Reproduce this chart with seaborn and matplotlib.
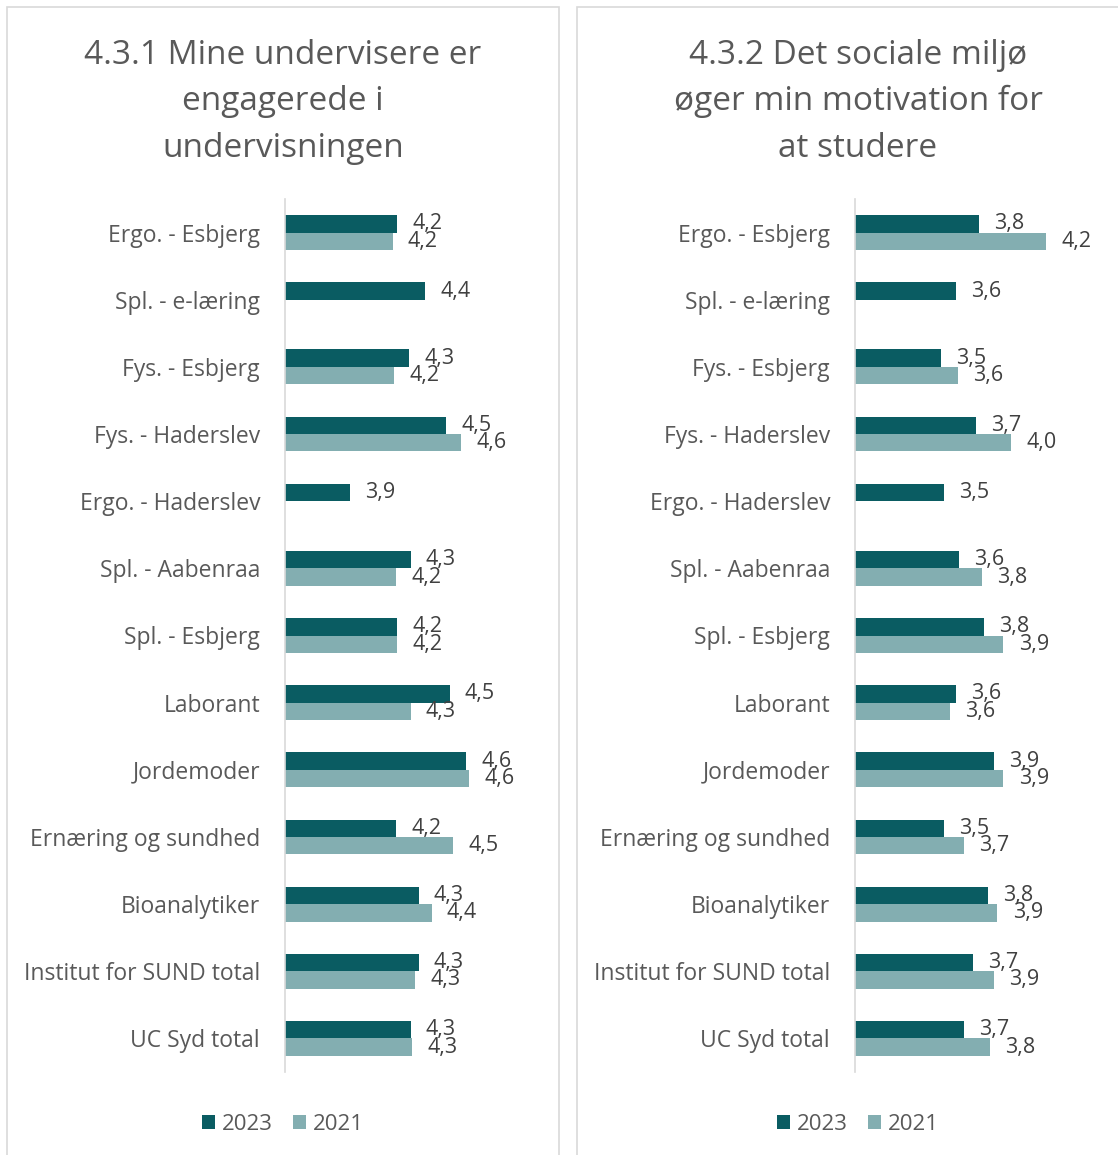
import numpy as np
import pandas as pd
import seaborn as sns
import matplotlib.pyplot as plt
from matplotlib.patches import Rectangle

# Data
categories = ['Ergo. - Esbjerg', 'Spl. - e-læring', 'Fys. - Esbjerg', 'Fys. - Haderslev',
              'Ergo. - Haderslev', 'Spl. - Aabenraa', 'Spl. - Esbjerg', 'Laborant',
              'Jordemoder', 'Ernæring og sundhed', 'Bioanalytiker',
              'Institut for SUND total', 'UC Syd total']
years = ['2023', '2021']

engaged_2023 = [4.19, 4.36, 4.26, 4.49, 3.90, 4.27, 4.19, 4.51, 4.61, 4.18, 4.32, 4.32, 4.27]
engaged_2021 = [4.16, np.nan, 4.17, 4.58, np.nan, 4.18, 4.19, 4.27, 4.63, 4.53, 4.40, 4.30, 4.28]

social_2023 = [3.76, 3.61, 3.51, 3.74, 3.53, 3.63, 3.79, 3.61, 3.86, 3.53, 3.82, 3.72, 3.66]
social_2021 = [4.20, np.nan, 3.62, 3.97, np.nan, 3.78, 3.92, 3.57, 3.92, 3.66, 3.88, 3.86, 3.83]

title_left = ['4.3.1 Mine undervisere er', 'engagerede i', 'undervisningen']
title_right = ['4.3.2 Det sociale miljø', 'øger min motivation for', 'at studere']

dark = '#0A5C62'
light = '#83AEB1'
grey_txt = '#595959'
val_txt = '#404040'
line_col = '#D9D9D9'


def long_df(v23, v21):
    df = pd.DataFrame({'Uddannelse': categories * 2,
                       'År': ['2023'] * len(categories) + ['2021'] * len(categories),
                       'Score': list(v23) + list(v21)})
    return df.dropna()


sns.set_style('white')
plt.rcParams['font.family'] = ['Open Sans', 'DejaVu Sans']

W, H = 1118, 1155
fig = plt.figure(figsize=(W / 100, H / 100), dpi=100)

# panel frames
for x0, x1 in [(7, 559), (577, 1140)]:
    fig.patches.append(Rectangle((x0 / W, -0.02), (x1 - x0) / W, 1.02 - 7 / H,
                                 transform=fig.transFigure, fill=False,
                                 edgecolor=line_col, lw=1.2))

# cut-off heading at the very top, only descenders show
fig.text(0.0, 1 + 6 / H, 'Figur 4.3: Engagement og motivation', fontsize=16,
         fontweight='bold', color='black', va='baseline', ha='left')

panels = [
    (engaged_2023, engaged_2021, title_left, 285, 283, 3.5, 163),
    (social_2023, social_2021, title_right, 855, 858, 2.95, 153),
]

for v23, v21, title, ax_left, cx, xmin, px_per_unit in panels:
    ax = fig.add_axes([ax_left / W, (H - 1072) / H, 250 / W, (1072 - 199) / H])
    df = long_df(v23, v21)
    sns.barplot(data=df, x='Score', y='Uddannelse', hue='År', hue_order=years,
                order=categories, palette=[dark, light], saturation=1, width=0.52,
                linewidth=0, ax=ax, legend=True, errorbar=None)
    ax.set_xlim(xmin, xmin + 250 / px_per_unit)
    for c in ax.containers:
        ax.bar_label(c, fmt=lambda v: f'{v:.1f}'.replace('.', ','), padding=11,
                     fontsize=15.5, color=val_txt)
    for s in ['top', 'right', 'bottom']:
        ax.spines[s].set_visible(False)
    ax.spines['left'].set_color(line_col)
    ax.spines['left'].set_linewidth(1.2)
    ax.set_xticks([])
    ax.set_xlabel('')
    ax.set_ylabel('')
    ax.tick_params(axis='y', length=0, pad=18, labelsize=16.5, labelcolor=grey_txt)

    handles, labels = ax.get_legend_handles_labels()
    ax.get_legend().remove()
    fig.legend(handles, labels, loc='center', bbox_to_anchor=(cx / W, (H - 1124) / H),
               ncol=2, frameon=False, fontsize=16, labelcolor=grey_txt,
               handlelength=0.6, handleheight=0.6, handletextpad=0.3,
               columnspacing=0.9)

    for line, base in zip(title, [64, 110, 157]):
        fig.text(cx / W, (H - base) / H, line, ha='center', va='baseline',
                 fontsize=24, color=grey_txt)

fig.savefig('out.png', dpi=100)
